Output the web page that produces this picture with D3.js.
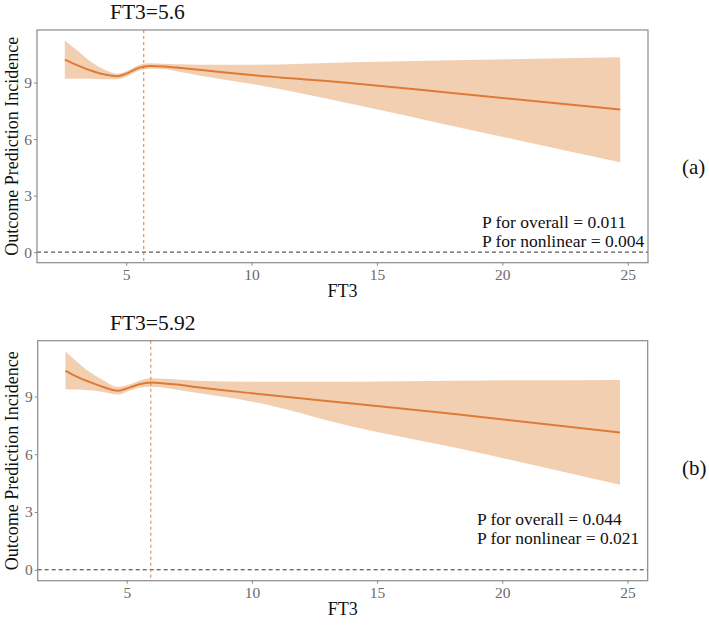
<!DOCTYPE html>
<html>
<head>
<meta charset="utf-8">
<script src="https://cdn.jsdelivr.net/npm/d3@7"></script>
<style>
  html, body { margin: 0; padding: 0; background: #fff; }
  svg { display: block; }
</style>
</head>
<body>
<svg id="chart" width="709" height="625"></svg>
<script>
// ---------- data ----------
const ft3Grid = [2.55, 3.0, 3.5, 4.0, 4.65, 5.1, 5.5, 5.95, 6.5, 7.0, 8.0, 10, 14, 18, 24.7];

const estA   = [10.22, 9.95, 9.68, 9.47, 9.34, 9.53, 9.78, 9.88, 9.86, 9.80, 9.67, 9.40, 8.97, 8.45, 7.57];
const upperA = [11.23, 10.75, 10.20, 9.78, 9.48, 9.66, 9.92, 10.02, 10.00, 9.97, 9.95, 9.95, 10.08, 10.18, 10.35];
const lowerA = [9.21, 9.20, 9.20, 9.18, 9.18, 9.38, 9.63, 9.74, 9.72, 9.60, 9.35, 8.93, 7.86, 6.70, 4.77];

const estB   = [10.33, 10.03, 9.76, 9.52, 9.30, 9.46, 9.63, 9.72, 9.68, 9.62, 9.45, 9.17, 8.63, 8.10, 7.13];
const upperB = [11.33, 10.82, 10.28, 9.90, 9.50, 9.62, 9.82, 9.95, 9.92, 9.88, 9.80, 9.76, 9.77, 9.82, 9.86];
const lowerB = [9.38, 9.36, 9.32, 9.25, 9.10, 9.30, 9.45, 9.50, 9.45, 9.35, 9.15, 8.73, 7.44, 6.37, 4.41];

const xTicks = [5, 10, 15, 20, 25];
const yTicks = [0, 3, 6, 9];
const titles = ["FT3=5.6", "FT3=5.92"];
const refLines = [5.7, 5.96];
const panelTags = ["(a)", "(b)"];
const pOverall = ["P for overall = 0.011", "P for overall = 0.044"];
const pNonlinear = ["P for nonlinear = 0.004", "P for nonlinear = 0.021"];
const xLabel = "FT3";
const yLabel = "Outcome Prediction Incidence";

// ---------- drawing ----------
const svg = d3.select("#chart");
const FONT = "'Liberation Serif', 'Times New Roman', serif";
const LINE_COL = "#DF7A35";
const BAND_COL = "#F3CFB2";

const panels = [
  { est: estA, upper: upperA, lower: lowerA, box: { l: 37, r: 648, t: 30, b: 262.7 },
    titleY: 19, tagY: 174, pX: 482, pY: [228, 247] },
  { est: estB, upper: upperB, lower: lowerB, box: { l: 37.7, r: 647.7, t: 340.7, b: 580.7 },
    titleY: 329.5, tagY: 475, pX: 477, pY: [525, 544] }
];

function expand(lo, hi) { const d = (hi - lo) * 0.05; return [lo - d, hi + d]; }

panels.forEach((p, i) => {
  const b = p.box;
  const xExt = d3.extent(ft3Grid);
  const x = d3.scaleLinear().domain(expand(xExt[0], xExt[1])).range([b.l, b.r]);
  const yLo = Math.min(0, d3.min(p.lower));
  const yHi = d3.max(p.upper);
  const y = d3.scaleLinear().domain(expand(yLo, yHi)).range([b.b, b.t]);

  const g = svg.append("g");
  const rows = ft3Grid.map((v, k) => ({ x: v, est: p.est[k], lo: p.lower[k], hi: p.upper[k] }));

  // band
  g.append("path")
    .datum(rows)
    .attr("fill", BAND_COL)
    .attr("d", d3.area().curve(d3.curveMonotoneX)
      .x(d => x(d.x)).y0(d => y(d.lo)).y1(d => y(d.hi)));

  // estimate line
  g.append("path")
    .datum(rows)
    .attr("fill", "none")
    .attr("stroke", LINE_COL)
    .attr("stroke-width", 2)
    .attr("d", d3.line().curve(d3.curveMonotoneX).x(d => x(d.x)).y(d => y(d.est)));

  // horizontal reference at 0
  g.append("line")
    .attr("x1", b.l).attr("x2", b.r)
    .attr("y1", y(0)).attr("y2", y(0))
    .attr("stroke", "#333").attr("stroke-width", 1)
    .attr("stroke-dasharray", "4,3");

  // vertical reference line
  g.append("line")
    .attr("x1", x(refLines[i])).attr("x2", x(refLines[i]))
    .attr("y1", b.t).attr("y2", b.b)
    .attr("stroke", LINE_COL).attr("stroke-width", 1)
    .attr("stroke-dasharray", "3,3");

  // border
  g.append("rect")
    .attr("x", b.l).attr("y", b.t)
    .attr("width", b.r - b.l).attr("height", b.b - b.t)
    .attr("fill", "none").attr("stroke", "#8a8a8a").attr("stroke-width", 1.2);

  // axes
  const xAxis = d3.axisBottom(x).tickValues(xTicks).tickSize(3).tickPadding(3).tickFormat(d3.format("d"));
  const gx = g.append("g").attr("transform", `translate(0,${b.b})`).call(xAxis);
  gx.select(".domain").remove();
  gx.selectAll("line").attr("stroke", "#8a8a8a");
  gx.selectAll("text").attr("fill", "#6b6b6b").style("font-family", FONT).style("font-size", "15.5px");

  const yAxis = d3.axisLeft(y).tickValues(yTicks).tickSize(3).tickPadding(2).tickFormat(d3.format("d"));
  const gy = g.append("g").attr("transform", `translate(${b.l},0)`).call(yAxis);
  gy.select(".domain").remove();
  gy.selectAll("line").attr("stroke", "#8a8a8a");
  gy.selectAll("text").attr("fill", "#6b6b6b").style("font-family", FONT).style("font-size", "15.5px");

  // axis titles
  g.append("text")
    .attr("x", (b.l + b.r) / 2).attr("y", b.b + 34)
    .attr("text-anchor", "middle")
    .style("font-family", FONT).style("font-size", "18px").attr("fill", "#111")
    .text(xLabel);

  g.append("text")
    .attr("transform", `translate(18,${(b.t + b.b) / 2}) rotate(-90)`)
    .attr("text-anchor", "middle")
    .style("font-family", FONT).style("font-size", "18px").attr("fill", "#111")
    .text(yLabel);

  // panel title
  g.append("text")
    .attr("x", 110).attr("y", p.titleY)
    .style("font-family", FONT).style("font-size", "21.5px").attr("fill", "#111")
    .text(titles[i]);

  // p-value annotations
  g.append("text")
    .attr("x", p.pX).attr("y", p.pY[0])
    .style("font-family", FONT).style("font-size", "17.5px").attr("fill", "#111")
    .text(pOverall[i]);
  g.append("text")
    .attr("x", p.pX).attr("y", p.pY[1])
    .style("font-family", FONT).style("font-size", "17.5px").attr("fill", "#111")
    .text(pNonlinear[i]);

  // panel tag
  g.append("text")
    .attr("x", 682).attr("y", p.tagY)
    .style("font-family", FONT).style("font-size", "21px").attr("fill", "#111")
    .text(panelTags[i]);
});
</script>
</body>
</html>
